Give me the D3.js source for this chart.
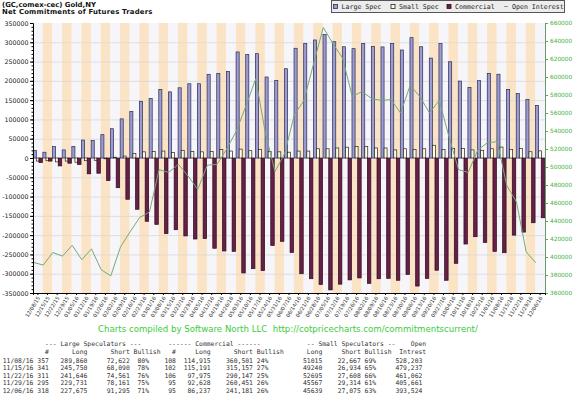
<!DOCTYPE html>
<html>
<head>
<meta charset="utf-8">
<script src="https://cdn.jsdelivr.net/npm/d3@7"></script>
<style>
  body { margin: 0; background: #fff; }
  svg { display: block; }
</style>
</head>
<body>
<div id="chart"></div>
<script>
// weekly report dates
var dates = ["12/08/15","12/15/15","12/22/15","12/29/15","01/05/16","01/12/16","01/19/16","01/26/16",
  "02/02/16","02/09/16","02/16/16","02/23/16","03/01/16","03/08/16","03/15/16","03/22/16","03/29/16",
  "04/05/16","04/12/16","04/19/16","04/26/16","05/03/16","05/10/16","05/17/16","05/24/16","05/31/16",
  "06/07/16","06/14/16","06/21/16","06/28/16","07/05/16","07/12/16","07/19/16","07/26/16","08/02/16",
  "08/09/16","08/16/16","08/23/16","08/30/16","09/06/16","09/13/16","09/20/16","09/27/16","10/04/16",
  "10/11/16","10/18/16","10/25/16","11/01/16","11/08/16","11/15/16","11/22/16","11/29/16","12/06/16"];

// net positions
var largeSpec = [19500, 15000, 29500, 21000, 29500, 46500, 45000, 60500, 76000, 101500, 120500, 147000,
  154000, 178000, 171500, 182000, 192500, 192500, 217000, 219500, 224500, 275000, 268500, 270500, 210000,
  201000, 231500, 284500, 297000, 306000, 320500, 301500, 288500, 283500, 297000, 289500, 288000, 297000,
  280000, 312000, 288500, 259000, 296500, 249500, 199500, 183000, 200500, 219500, 217238, 177660, 167085,
  151570, 136380];
var smallSpec = [-8000, -7000, -10000, -8000, -11000, -7000, -6000, -2000, 2000, 5000, 12000, 16000,
  17000, 18000, 14000, 20000, 17000, 16000, 17000, 22000, 18000, 23000, 19000, 22000, 17000, 16000,
  15000, 18000, 18000, 24000, 24000, 26000, 28000, 30000, 30000, 26000, 26000, 21000, 24000, 22000,
  24000, 33000, 22000, 25000, 25000, 21000, 20000, 24000, 28348, 22306, 25087, 16253, 18564];
var commercial = [-12000, -8000, -20500, -13500, -17000, -41000, -39500, -58500, -77000, -107000, -133000,
  -164000, -172000, -196000, -186000, -202000, -210000, -209000, -234000, -241000, -242000, -298000,
  -287000, -292000, -227000, -216000, -245000, -300000, -313000, -328000, -342000, -327000, -316000,
  -311000, -325000, -313000, -312000, -317000, -302000, -332000, -312000, -291000, -317000, -273000,
  -223000, -204000, -219000, -242000, -245586, -199966, -192172, -167823, -154944];
var openInterest = [394000, 391000, 405000, 401000, 413000, 397000, 409000, 386000, 379000, 411000, 428000,
  444000, 450000, 497000, 494000, 503000, 490000, 475000, 502000, 503000, 520000, 540000, 568000, 598000,
  538000, 495000, 515000, 558000, 574000, 615000, 655000, 637000, 621000, 578000, 584000, 576000, 574000,
  575000, 560000, 591000, 578000, 560000, 574000, 534000, 497000, 494000, 519000, 527000, 528203, 479237,
  461062, 405661, 393524];

var leftTicks = [350000, 300000, 250000, 200000, 150000, 100000, 50000, 0, -50000, -100000, -150000,
  -200000, -250000, -300000, -350000];
var rightTicks = [660000, 640000, 620000, 600000, 580000, 560000, 540000, 520000, 500000, 480000, 460000,
  440000, 420000, 400000, 380000, 360000];

// table under the chart
var tblDates = ["11/08/16", "11/15/16", "11/22/16", "11/29/16", "12/06/16"];
var lsTraders = [357, 341, 311, 295, 318];
var lsLong = [289860, 245750, 241646, 229731, 227675];
var lsShort = [72622, 68090, 74561, 78161, 91295];
var lsBull = [80, 78, 76, 75, 71];
var cmTraders = [108, 102, 106, 95, 95];
var cmLong = [114915, 115191, 97975, 92628, 86237];
var cmShort = [360501, 315157, 290147, 260451, 241181];
var cmBull = [24, 27, 25, 26, 26];
var ssLong = [51015, 49240, 52695, 45567, 45639];
var ssShort = [22667, 26934, 27608, 29314, 27075];
var ssBull = [69, 65, 66, 61, 63];
var openInt = [528203, 479237, 461062, 405661, 393524];

var svgWidth = 576, svgHeight = 397;
var margin = {top: 23, right: 31, bottom: 104, left: 33};
var width = svgWidth - margin.left - margin.right;
var height = svgHeight - margin.top - margin.bottom;

var svg = d3.select("#chart").append("svg")
  .attr("width", svgWidth)
  .attr("height", svgHeight);

var chartGroup = svg.append("g")
  .attr("transform", `translate(${margin.left}, ${margin.top})`);

var xScale = d3.scaleBand().domain(dates).range([0, width]);
var bw = xScale.bandwidth();
var yLeft = d3.scaleLinear().domain([-350000, 350000]).range([height, 0]);
var yRight = d3.scaleLinear().domain([360000, 660000]).range([height, 0]);

// striped background
chartGroup.selectAll("rect.stripe")
  .data(dates)
  .enter()
  .append("rect")
  .attr("class", "stripe")
  .attr("x", d => xScale(d))
  .attr("y", 0)
  .attr("width", bw + 0.2)
  .attr("height", height)
  .attr("fill", (d, i) => i % 2 ? "#fbe4c6" : "#f6f6fa");

// grid lines
chartGroup.selectAll("line.grid")
  .data(leftTicks.slice(1, -1))
  .enter()
  .append("line")
  .attr("x1", 0).attr("x2", width)
  .attr("y1", d => yLeft(d) + 0.5).attr("y2", d => yLeft(d) + 0.5)
  .attr("stroke", "#d8d8d8")
  .attr("stroke-width", 0.8);

// bars
function barY(v) { return yLeft(Math.max(v, 0)); }
function barH(v) { return Math.abs(yLeft(v) - yLeft(0)); }

var series = [
  {values: largeSpec, off: 0.2, w: 3.1, fill: "#9c9cd0", stroke: "#2a2a55"},
  {values: smallSpec, off: 3.3, w: 3, fill: "#fffde0", stroke: "#222"},
  {values: commercial, off: 5.9, w: 3.5, fill: "#661f46", stroke: "#2e0a1e"}
];
series.forEach(function(s) {
  chartGroup.append("g").selectAll("rect")
    .data(s.values)
    .enter()
    .append("rect")
    .attr("x", (d, i) => xScale(dates[i]) + s.off)
    .attr("y", d => barY(d))
    .attr("width", s.w)
    .attr("height", d => barH(d))
    .attr("fill", s.fill)
    .attr("stroke", s.stroke)
    .attr("stroke-width", 0.7);
});

// open interest line
var oiLine = d3.line()
  .x((d, i) => xScale(dates[i]) + 0.5)
  .y(d => yRight(d));
chartGroup.append("path")
  .datum(openInterest)
  .attr("d", oiLine)
  .attr("fill", "none")
  .attr("stroke", "#77a877")
  .attr("stroke-width", 1);

// left axis
var leftAxis = chartGroup.append("g")
  .call(d3.axisLeft(yLeft).tickValues(leftTicks).tickSize(3).tickPadding(1.5).tickFormat(d => String(d)));
chartGroup.append("g")
  .call(d3.axisLeft(yLeft).tickValues(d3.range(-350000, 350001, 10000)).tickSize(1.5).tickFormat(""))
  .select(".domain").remove();
leftAxis.selectAll("text")
  .attr("font-family", "DejaVu Sans, sans-serif")
  .attr("font-size", "6.3px")
  .attr("fill", "#222");

// right axis
var rightAxis = chartGroup.append("g")
  .attr("transform", `translate(${width}, 0)`)
  .call(d3.axisRight(yRight).tickValues(rightTicks).tickSize(3).tickPadding(2).tickFormat(d => String(d)));
rightAxis.select(".domain").attr("stroke", "#6a9a6a");
rightAxis.selectAll("line").attr("stroke", "#6a9a6a");
rightAxis.selectAll("text")
  .attr("font-family", "DejaVu Sans, sans-serif")
  .attr("font-size", "5.8px")
  .attr("fill", "#44b044");

// bottom axis
var bottomAxis = chartGroup.append("g")
  .attr("transform", `translate(0, ${height})`)
  .call(d3.axisBottom(xScale).tickSize(2).tickFormat(""));
bottomAxis.selectAll("text").remove();
chartGroup.selectAll("text.xlab")
  .data(dates)
  .enter()
  .append("text")
  .attr("class", "xlab")
  .attr("transform", d => `translate(${xScale(d) + bw / 2 + 1}, ${height + 4}) rotate(-58)`)
  .attr("text-anchor", "end")
  .attr("dy", "0.35em")
  .attr("font-family", "DejaVu Sans, sans-serif")
  .attr("font-size", "5.2px")
  .attr("fill", "#333")
  .text(d => d);

// titles
svg.append("text")
  .attr("x", 2).attr("y", 6.5)
  .attr("font-family", "DejaVu Sans, sans-serif")
  .attr("font-weight", "bold")
  .attr("font-size", "6.9px")
  .attr("fill", "#111")
  .text("(GC,comex-cec) Gold,NY");
svg.append("text")
  .attr("x", 2).attr("y", 13.8)
  .attr("font-family", "DejaVu Sans, sans-serif")
  .attr("font-weight", "bold")
  .attr("font-size", "6.9px")
  .attr("letter-spacing", "0.2px")
  .attr("fill", "#111")
  .text("Net Commitments of Futures Traders");

// legend
var legend = svg.append("g");
legend.append("rect")
  .attr("x", 331.5).attr("y", 0.5)
  .attr("width", 233).attr("height", 12)
  .attr("fill", "#ececec")
  .attr("stroke", "#555");
var legendItems = [
  {label: "Large Spec", x: 333.5, fill: "#9c9cd0", stroke: "#2a2a55"},
  {label: "Small Spec", x: 391, fill: "#fffde0", stroke: "#222"},
  {label: "Commercial", x: 447, fill: "#661f46", stroke: "#2e0a1e"},
  {label: "Open Interest", x: 504, line: true}
];
legendItems.forEach(function(it) {
  if (it.line) {
    legend.append("line")
      .attr("x1", it.x).attr("x2", it.x + 4)
      .attr("y1", 6.5).attr("y2", 6.5)
      .attr("stroke", "#77a877").attr("stroke-width", 1);
  } else {
    legend.append("rect")
      .attr("x", it.x).attr("y", 4.5)
      .attr("width", 4).attr("height", 4)
      .attr("fill", it.fill).attr("stroke", it.stroke).attr("stroke-width", 0.8);
  }
  legend.append("text")
    .attr("x", it.x + 8).attr("y", 9.3)
    .attr("font-family", "DejaVu Sans Mono, monospace")
    .attr("font-size", "6.6px")
    .attr("fill", "#222")
    .text(it.label);
});

// footer
svg.append("text")
  .attr("x", 288).attr("y", 332)
  .attr("text-anchor", "middle")
  .attr("xml:space", "preserve")
  .attr("font-family", "DejaVu Sans, sans-serif")
  .attr("font-size", "8.6px")
  .attr("fill", "#3ccc3c")
  .text("Charts compiled by Software North LLC  http://cotpricecharts.com/commitmentscurrent/");

// table: each column right-aligned on a monospace grid
var cw = 3.85, x0 = 2.7;
var table = svg.append("g")
  .attr("font-family", "DejaVu Sans Mono, monospace")
  .attr("font-size", "6.4px")
  .attr("fill", "#333");
var comma = d3.format(",");
var pct = d => d + "%";
var columns = [
  {vals: lsTraders, f: String, end: 12, head: "#"},
  {vals: lsLong, f: comma, end: 22, head: "Long"},
  {vals: lsShort, f: comma, end: 33, head: "Short"},
  {vals: lsBull, f: pct, end: 38, head: "Bullish", headEnd: 41},
  {vals: cmTraders, f: String, end: 45, head: "#"},
  {vals: cmLong, f: comma, end: 54, head: "Long"},
  {vals: cmShort, f: comma, end: 65, head: "Short"},
  {vals: cmBull, f: pct, end: 69, head: "Bullish", headEnd: 73},
  {vals: ssLong, f: String, end: 83, head: "Long"},
  {vals: ssShort, f: comma, end: 93, head: "Short"},
  {vals: ssBull, f: pct, end: 97, head: "Bullish", headEnd: 101},
  {vals: openInt, f: comma, end: 109, head: "Intrest", headEnd: 110}
];
var headY = [345.5, 354], rowY0 = 363, rowStep = 7.4;

var groups = [
  {label: "--- Large Speculators ---", col: 11},
  {label: "------ Commercial ------", col: 43},
  {label: "-- Small Speculators --", col: 79}
];
groups.forEach(function(g) {
  table.append("text")
    .attr("x", x0 + g.col * cw).attr("y", headY[0])
    .attr("xml:space", "preserve")
    .text(g.label);
});
table.append("text")
  .attr("x", x0 + 110 * cw).attr("y", headY[0])
  .attr("text-anchor", "end")
  .text("Open");

columns.forEach(function(c) {
  table.append("text")
    .attr("x", x0 + (c.headEnd || c.end) * cw).attr("y", headY[1])
    .attr("text-anchor", "end")
    .text(c.head);
  table.selectAll(null)
    .data(c.vals)
    .enter()
    .append("text")
    .attr("x", x0 + c.end * cw)
    .attr("y", (d, i) => rowY0 + i * rowStep)
    .attr("text-anchor", "end")
    .text(d => c.f(d));
});
table.selectAll(null)
  .data(tblDates)
  .enter()
  .append("text")
  .attr("x", x0)
  .attr("y", (d, i) => rowY0 + i * rowStep)
  .text(d => d);
</script>
</body>
</html>
